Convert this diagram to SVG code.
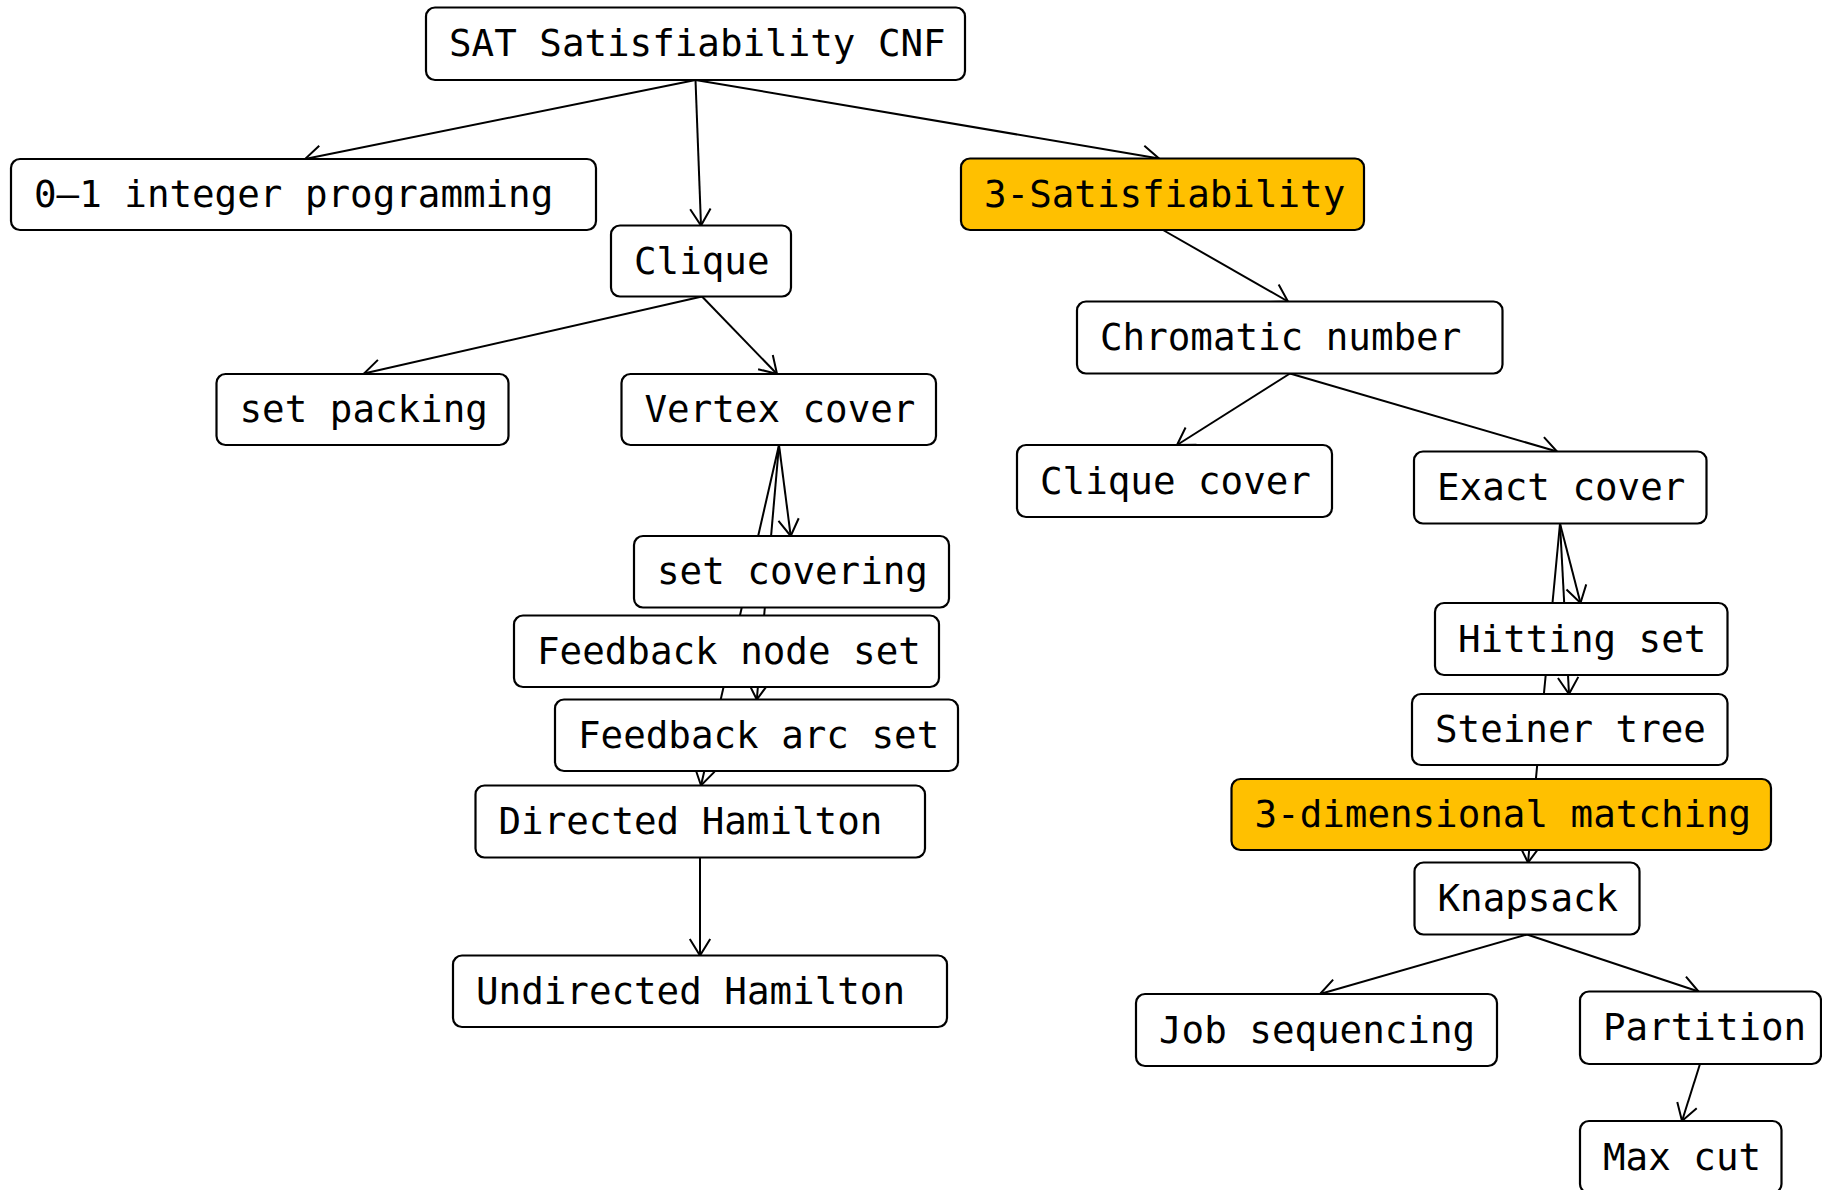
<svg xmlns="http://www.w3.org/2000/svg" width="1822" height="1190" viewBox="0 0 1822 1190">
  <style>
    .box { fill: #ffffff; stroke: #000000; stroke-width: 2.2; }
    .hl { fill: #FFC000; }
    .lbl { font-family: "DejaVu Sans Mono", monospace; font-size: 37.5px; fill: #000000; }
    .edge { fill: none; stroke: #000000; stroke-width: 2; marker-end: url(#arrow); }
  </style>
  <defs>
    <marker id="arrow" markerUnits="userSpaceOnUse" orient="auto" overflow="visible" markerWidth="20" markerHeight="20" refX="0" refY="0">
      <path d="M-16.6,-10.2 L0,0 L-16.6,10.2" fill="none" stroke="#000000" stroke-width="2"/>
    </marker>
  </defs>
  <rect width="1822" height="1190" fill="#ffffff"/>

  <!-- reductions: drawn first so the boxes cover the parts that pass behind them -->
  <g id="connectors">
    <line class="edge" x1="695.5" y1="80" x2="305" y2="159"/>
    <line class="edge" x1="695.5" y1="80" x2="701" y2="225.5"/>
    <line class="edge" x1="695.5" y1="80" x2="1159" y2="158.5"/>
    <line class="edge" x1="1163" y1="230" x2="1288" y2="301.5"/>
    <line class="edge" x1="702" y1="296.5" x2="364" y2="373.5"/>
    <line class="edge" x1="702" y1="296.5" x2="777" y2="374"/>
    <line class="edge" x1="1290" y1="373.5" x2="1177" y2="445"/>
    <line class="edge" x1="1290" y1="373.5" x2="1557" y2="451.5"/>
    <line class="edge" x1="779" y1="445" x2="790.7" y2="536"/>
    <line class="edge" x1="779" y1="445" x2="756.8" y2="699.5"/>
    <line class="edge" x1="779" y1="445" x2="701" y2="785.5"/>
    <line class="edge" x1="700" y1="857.5" x2="700" y2="955.5"/>
    <line class="edge" x1="1560" y1="523.5" x2="1580.5" y2="603"/>
    <line class="edge" x1="1560" y1="523.5" x2="1569" y2="694"/>
    <line class="edge" x1="1560" y1="523.5" x2="1528" y2="862.5"/>
    <line class="edge" x1="1527" y1="934.5" x2="1320" y2="994"/>
    <line class="edge" x1="1527" y1="934.5" x2="1698.5" y2="991.5"/>
    <line class="edge" x1="1700" y1="1064" x2="1682" y2="1121"/>
  </g>

  <g id="sat">
    <rect class="box" x="426" y="7.5" width="539" height="72.5" rx="9"/>
    <text class="lbl" x="449" y="56">SAT Satisfiability CNF</text>
  </g>
  <g id="ilp">
    <rect class="box" x="11" y="159" width="585" height="71" rx="9"/>
    <text class="lbl" x="34" y="207">0–1 integer programming</text>
  </g>
  <g id="clique">
    <rect class="box" x="611" y="225.5" width="180" height="71" rx="9"/>
    <text class="lbl" x="634" y="273.5">Clique</text>
  </g>
  <g id="sat3">
    <rect class="box hl" x="961" y="158.5" width="403" height="71.5" rx="9"/>
    <text class="lbl" x="984" y="207">3-Satisfiability</text>
  </g>
  <g id="chromatic">
    <rect class="box" x="1077" y="301.5" width="425.5" height="72" rx="9"/>
    <text class="lbl" x="1100" y="350">Chromatic number</text>
  </g>
  <g id="setpacking">
    <rect class="box" x="216.5" y="374" width="292" height="71" rx="9"/>
    <text class="lbl" x="239.5" y="422">set packing</text>
  </g>
  <g id="vertexcover">
    <rect class="box" x="621.5" y="374" width="314.5" height="71" rx="9"/>
    <text class="lbl" x="644.5" y="422">Vertex cover</text>
  </g>
  <g id="cliquecover">
    <rect class="box" x="1017" y="445" width="315" height="72" rx="9"/>
    <text class="lbl" x="1040" y="493.5">Clique cover</text>
  </g>
  <g id="exactcover">
    <rect class="box" x="1414" y="451.5" width="292.5" height="72" rx="9"/>
    <text class="lbl" x="1437" y="500">Exact cover</text>
  </g>
  <g id="setcovering">
    <rect class="box" x="634" y="536" width="315" height="71.5" rx="9"/>
    <text class="lbl" x="657" y="584">set covering</text>
  </g>
  <g id="feedbacknode">
    <rect class="box" x="514" y="615.5" width="425" height="71.5" rx="9"/>
    <text class="lbl" x="537" y="663.5">Feedback node set</text>
  </g>
  <g id="feedbackarc">
    <rect class="box" x="555" y="699.5" width="403" height="71.5" rx="9"/>
    <text class="lbl" x="578" y="747.5">Feedback arc set</text>
  </g>
  <g id="directedham">
    <rect class="box" x="475.5" y="785.5" width="449.5" height="72" rx="9"/>
    <text class="lbl" x="498.5" y="834">Directed Hamilton</text>
  </g>
  <g id="undirectedham">
    <rect class="box" x="453" y="955.5" width="494" height="71.5" rx="9"/>
    <text class="lbl" x="476" y="1003.5">Undirected Hamilton</text>
  </g>
  <g id="hittingset">
    <rect class="box" x="1435" y="603" width="292.5" height="72" rx="9"/>
    <text class="lbl" x="1458" y="651.5">Hitting set</text>
  </g>
  <g id="steinertree">
    <rect class="box" x="1412" y="694" width="315.5" height="71" rx="9"/>
    <text class="lbl" x="1435" y="742">Steiner tree</text>
  </g>
  <g id="matching3d">
    <rect class="box hl" x="1231.5" y="779" width="539.5" height="71" rx="9"/>
    <text class="lbl" x="1254.5" y="827">3-dimensional matching</text>
  </g>
  <g id="knapsack">
    <rect class="box" x="1414.5" y="862.5" width="225" height="72" rx="9"/>
    <text class="lbl" x="1437.5" y="911">Knapsack</text>
  </g>
  <g id="jobsequencing">
    <rect class="box" x="1136" y="994" width="361" height="72" rx="9"/>
    <text class="lbl" x="1159" y="1042.5">Job sequencing</text>
  </g>
  <g id="partition">
    <rect class="box" x="1580" y="991.5" width="241" height="72.5" rx="9"/>
    <text class="lbl" x="1603" y="1040">Partition</text>
  </g>
  <g id="maxcut">
    <rect class="box" x="1580" y="1121" width="201.5" height="72" rx="9"/>
    <text class="lbl" x="1603" y="1169.5">Max cut</text>
  </g>
</svg>
